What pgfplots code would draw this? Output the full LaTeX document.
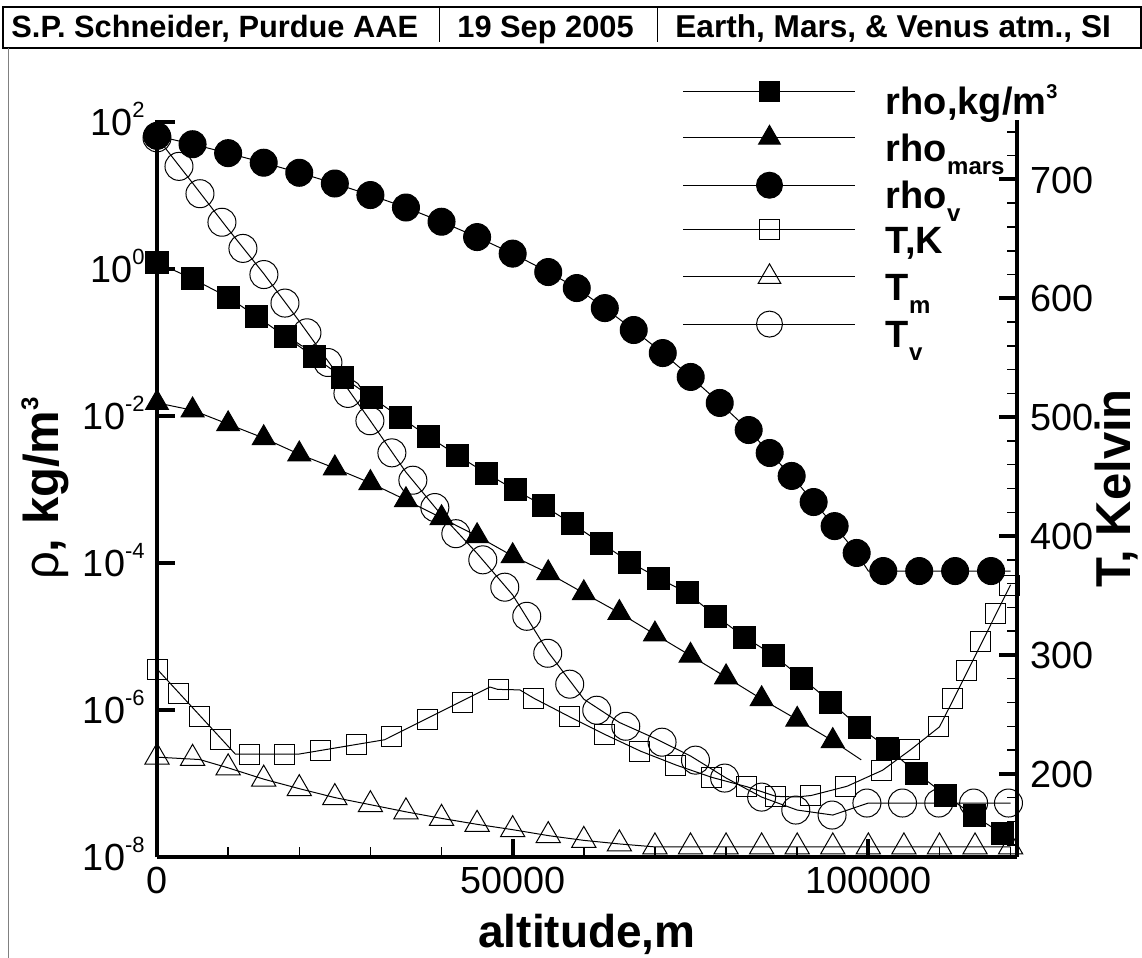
\documentclass[border=0pt]{standalone}
\usepackage{fontspec}
\setmainfont{Liberation Sans}
\usepackage{pgfplots}
\pgfplotsset{compat=1.18}
\newcommand{\tp}[1]{10\raisebox{0.48em}{\fontsize{11bp}{11bp}\selectfont #1}}
\newcommand{\sub}[1]{\raisebox{-6.5bp}{\fontsize{12bp}{12bp}\selectfont #1}}
\newcommand{\sups}[1]{\raisebox{8bp}{\fontsize{10bp}{10bp}\selectfont #1}}
\newcommand{\lsups}[1]{\raisebox{10bp}{\fontsize{12bp}{12bp}\selectfont #1}}
\newcommand{\lgent}[1]{\raisebox{0pt}[14bp][5bp]{#1}}
\begin{document}
\begin{tikzpicture}
\useasboundingbox (0,0) rectangle (571bp,-479bp);
% header
\draw[line width=0.75bp] (1.5bp,-3.5bp) rectangle (570.5bp,-24bp);
\draw[line width=0.5bp] (219.5bp,-4bp) -- (219.5bp,-21bp);
\draw[line width=0.5bp] (328.5bp,-4bp) -- (328.5bp,-21bp);
\node[anchor=base west, inner sep=0pt] at (5.5bp,-18.5bp) {\bfseries\fontsize{15.4bp}{15.4bp}\selectfont S.P. Schneider, Purdue AAE};
\node[anchor=base west, inner sep=0pt] at (228.5bp,-18.5bp) {\bfseries\fontsize{15.4bp}{15.4bp}\selectfont 19 Sep 2005};
\node[anchor=base west, inner sep=0pt] at (337.5bp,-18.5bp) {\bfseries\fontsize{15.8bp}{15.8bp}\selectfont Earth, Mars, \& Venus atm., SI};
\draw[gray, line width=0.5bp] (4bp,-24bp) -- (4bp,-479bp);

\pgfplotsset{
  common/.style={
    at={(78.5bp,-428.5bp)}, anchor=south west,
    scale only axis, width=430bp, height=368.5bp,
    xmin=0, xmax=120900, clip=false,
    scaled x ticks=false, scaled y ticks=false,
    axis line style={line width=2bp},
    tick align=inside,
    major tick length=9bp, minor tick length=5bp,
    every major tick/.style={line width=2bp, black},
    every minor tick/.style={line width=0.75bp, black},
    ticklabel style={font=\fontsize{18.9bp}{20bp}\selectfont, inner sep=0pt},
    label style={font=\fontsize{23bp}{23bp}\selectfont\bfseries},
    ylabel style={font=\fontsize{24.5bp}{24.5bp}\selectfont\bfseries},
  },
  ln/.style={black, line width=0.5bp, mark=none, forget plot},
  mk/.style={black, only marks, forget plot, mark options={line width=0.5bp}},
}

\begin{axis}[common,
  ymode=log, ymin=1e-8, ymax=106.5,
  axis x line*=bottom, axis y line*=left,
  xtick={0,50000,100000}, xticklabels={0,50000,100000},
  minor xtick={10000,20000,30000,40000,60000,70000,80000,90000,110000,120000},
  ytick={1e-8,1e-6,1e-4,1e-2,1,1e2},
  yticklabels={\tp{-8},\tp{-6},\tp{-4},\tp{-2},\tp{0},\tp{2}},
  yminorticks=false,
  xticklabel style={anchor=north, yshift=-5bp},
  yticklabel style={anchor=base east, yshift=-6.8bp, xshift=-6bp},
  xlabel={altitude,m},
  xlabel style={at={(axis description cs:0.5,-0.1221)}, anchor=base},
  ylabel={{\mdseries ρ}, kg/m\lsups{3}},
  ylabel style={at={(axis description cs:-0.1151,0.5)}, anchor=base, rotate=0},
]
% Earth density
\addplot[ln] coordinates {(0,1.225) (5000,0.7364) (10000,0.4135) (14033,0.2253) (18066,0.1204) (22099,0.0636) (26132,0.0336) (30165,0.01795) (34198,0.009585) (38231,0.00521) (42264,0.002898) (46297,0.001661) (50330,9.88e-4) (54363,6.0e-4) (58396,3.4e-4) (62429,1.87e-4) (66462,1.03e-4) (70495,6.25e-5) (74528,3.91e-5) (78561,1.90e-5) (82594,9.84e-6) (86627,5.6e-6) (90660,2.72e-6) (94693,1.285e-6) (98726,5.87e-7) (102759,3.04e-7) (106792,1.39e-7) (110825,6.98e-8) (114858,3.63e-8) (118891,2.06e-8) (120000,1.9e-8)};
\addplot[mk, mark=square*, mark size=5.5bp] coordinates {(0,1.225) (5000,0.7364) (10000,0.4135) (14033,0.2253) (18066,0.1204) (22099,0.0636) (26132,0.0336) (30165,0.01795) (34198,0.009585) (38231,0.00521) (42264,0.002898) (46297,0.001661) (50330,9.88e-4) (54363,6.0e-4) (58396,3.4e-4) (62429,1.87e-4) (66462,1.03e-4) (70495,6.25e-5) (74528,3.91e-5) (78561,1.90e-5) (82594,9.84e-6) (86627,5.6e-6) (90660,2.72e-6) (94693,1.285e-6) (98726,5.87e-7) (102759,3.04e-7) (106792,1.39e-7) (110825,6.98e-8) (114858,3.63e-8) (118891,2.06e-8)};
% Mars density
\addplot[ln] coordinates {(0,0.0151) (5000,0.0120) (10000,0.00776) (15000,0.00501) (20000,0.00302) (25000,0.00195) (30000,0.00123) (35000,7.2e-4) (40000,4.1e-4) (45000,2.33e-4) (50000,1.245e-4) (55000,7.3e-5) (60000,3.9e-5) (65000,2.1e-5) (70000,1.07e-5) (75000,5.5e-6) (80000,2.8e-6) (85000,1.41e-6) (90000,7.4e-7) (95000,3.8e-7) (99000,2.1e-7)};
\addplot[mk, mark=triangle*, mark size=6.6bp] coordinates {(0,0.0151) (5000,0.0120) (10000,0.00776) (15000,0.00501) (20000,0.00302) (25000,0.00195) (30000,0.00123) (35000,7.2e-4) (40000,4.1e-4) (45000,2.33e-4) (50000,1.245e-4) (55000,7.3e-5) (60000,3.9e-5) (65000,2.1e-5) (70000,1.07e-5) (75000,5.5e-6) (80000,2.8e-6) (85000,1.41e-6) (90000,7.4e-7) (95000,3.8e-7)};
% Venus density
\addplot[ln] coordinates {(0,64.79) (5000,49.87) (10000,37.72) (15000,27.95) (20000,20.39) (25000,14.57) (30000,10.15) (35000,6.87) (40000,4.40) (45000,2.72) (50000,1.62) (55000,0.91) (59010,0.551) (62950,0.294) (67020,0.148) (71100,0.0719) (75030,0.0340) (79110,0.01505) (83180,6.45e-3) (86130,3.14e-3) (89220,1.53e-3) (92310,6.76e-4) (95260,3.18e-4) (98360,1.37e-4) (100000,7.78e-5) (120000,7.78e-5)};
\addplot[mk, mark=*, mark size=6.75bp] coordinates {(0,64.79) (5000,49.87) (10000,37.72) (15000,27.95) (20000,20.39) (25000,14.57) (30000,10.15) (35000,6.87) (40000,4.40) (45000,2.72) (50000,1.62) (55000,0.91) (59010,0.551) (62950,0.294) (67020,0.148) (71100,0.0719) (75030,0.0340) (79110,0.01505) (83180,6.45e-3) (86130,3.14e-3) (89220,1.53e-3) (92310,6.76e-4) (95260,3.18e-4) (98360,1.37e-4) (102100,7.78e-5) (107150,7.78e-5) (112200,7.78e-5) (117250,7.78e-5)};
\end{axis}

\begin{axis}[common,
  ymin=130, ymax=750,
  axis y line*=right, axis x line=none, xtick=\empty,
  ytick={200,300,400,500,600,700},
  yticklabels={200,300,400,500,600,700},
  minor ytick={140,160,180,220,240,260,280,320,340,360,380,420,440,460,480,520,540,560,580,620,640,660,680,720,740},
  yticklabel style={anchor=base west, yshift=-6.8bp, xshift=6.5bp},
  ylabel={T, Kelvin},
  ylabel style={at={(axis description cs:1.1314,0.5)}, anchor=base, rotate=0},
  legend image code/.code={\draw[mark repeat=2,mark phase=2,#1] plot coordinates {(0bp,5.5bp) (43bp,5.5bp) (86bp,5.5bp)};},
  legend style={draw=none, fill=none, at={(axis description cs:0.6116,1.0529)}, anchor=north west,
    inner sep=0pt, outer sep=0pt, row sep=3.9bp,
    font=\fontsize{19bp}{19bp}\selectfont\bfseries,
    nodes={inner sep=0pt},
    /tikz/every odd column/.append style={column sep=15bp}},
  legend cell align=left,
]
% Earth temperature
\addplot[ln] coordinates {(0,288.15) (11000,216.65) (20000,216.65) (32000,228.65) (46800,273) (47900,271) (51000,270.6) (53000,263.5) (58000,248) (63000,233) (68000,219) (73000,207.3) (78000,197) (83000,189) (87000,181) (90000,180.5) (92000,181.8) (97000,189.5) (102000,203) (106000,220.5) (110000,239.5) (112000,263) (114000,287) (116000,311) (118000,335) (120000,359)};
\addplot[mk, mark=square, mark size=5bp] coordinates {(0,288.15) (3090,267.8) (6040,248.5) (8990,229.2) (13070,216.65) (17990,216.65) (23050,219.7) (28100,224.7) (33020,231.5) (38080,245.8) (43000,259.6) (48060,270.8) (52980,263.5) (58040,248) (62950,233) (67870,219) (72920,207.3) (77980,197) (82900,189) (86970,181) (91890,181.8) (96810,189.5) (101870,203) (105800,220.5) (109880,239.5) (111850,263) (113820,287) (115790,311) (117890,335) (119850,358)};
% Mars temperature
\addplot[ln] coordinates {(0,214) (6000,212) (10000,205) (15000,195.5) (20000,187.5) (25000,180) (30000,174) (35000,168) (40000,162.5) (45000,157.5) (50000,153) (55000,148) (60000,144) (65000,141) (70000,138.5) (120000,138.5)};
\addplot[mk, mark=triangle, mark size=7bp] coordinates {(0,214) (5000,213) (10000,205) (15000,195.5) (20000,187.5) (25000,180) (30000,174) (35000,168) (40000,162.5) (45000,157.5) (50000,153) (55000,148) (60000,144) (65000,141) (70000,138.5) (75000,138.5) (80000,138.5) (85000,138.5) (90000,138.5) (95000,138.5) (100000,138.5) (105000,138.5) (110000,138.5) (115000,138.5) (120000,138.5)};
% Venus temperature
\addplot[ln] coordinates {(0,735.3) (5000,697) (10000,658.2) (15000,620.8) (20000,580.7) (25000,539.2) (30000,496.9) (35000,453.7) (40000,417.6) (45000,385.4) (50000,350.5) (55000,302.3) (60000,262.8) (65000,243.2) (70000,229.8) (75000,215) (80000,196.5) (85000,180.4) (90000,169.5) (95000,165.3) (100000,175.4) (120000,175.4)};
\addplot[mk, mark=o, mark size=7bp] coordinates {(0,735) (3090,711) (6040,688) (9130,664) (12080,642) (15030,620) (17990,596) (21080,571) (24030,546) (26840,520) (29930,497) (33020,470) (35970,447) (39060,424) (42010,402) (45800,380) (48890,357) (51980,332.5) (54930,301.4) (58020,275.4) (61820,253.5) (65900,240) (71000,226.6) (75700,211.5) (79800,196.4) (85000,180.4) (89800,169.5) (94900,165.3) (99800,175.4) (104800,175.4) (109900,175.4) (114800,175.4) (119700,175.4)};
% legend
\addlegendimage{black, line width=0.5bp, mark=square*, mark size=5bp, mark options={line width=0.5bp}}
\addlegendentry{\lgent{rho,kg/m\sups{3}}}
\addlegendimage{black, line width=0.5bp, mark=triangle*, mark size=6.3bp, mark options={line width=0.5bp}}
\addlegendentry{\lgent{rho\sub{mars}}}
\addlegendimage{black, line width=0.5bp, mark=*, mark size=6.5bp, mark options={line width=0.5bp}}
\addlegendentry{\lgent{rho\sub{v}}}
\addlegendimage{black, line width=0.5bp, mark=square, mark size=5bp, mark options={line width=0.5bp}}
\addlegendentry{\lgent{T,K}}
\addlegendimage{black, line width=0.5bp, mark=triangle, mark size=6.5bp, mark options={line width=0.5bp}}
\addlegendentry{\lgent{T\sub{m}}}
\addlegendimage{black, line width=0.5bp, mark=o, mark size=6.5bp, mark options={line width=0.5bp}}
\addlegendentry{\lgent{T\sub{v}}}
\end{axis}
\end{tikzpicture}
\end{document}
